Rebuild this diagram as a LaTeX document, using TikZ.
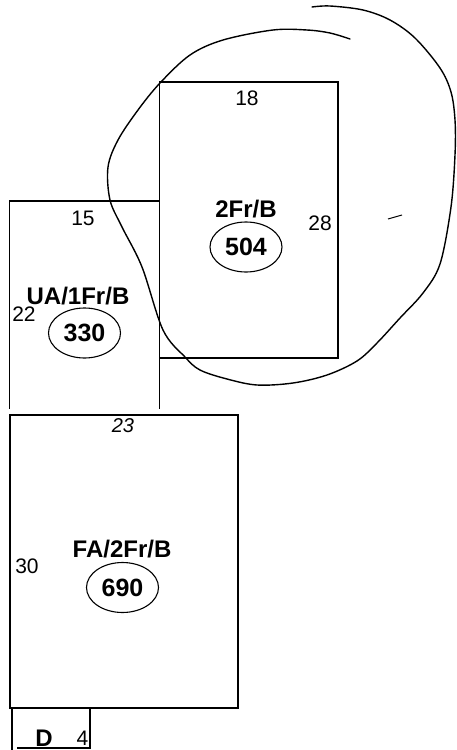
\documentclass[tikz,border=0pt]{standalone}
\usepackage{fontspec}
\setmainfont{Liberation Sans}
\usetikzlibrary{shapes.geometric}
\begin{document}
\begin{tikzpicture}[x=1pt,y=-1pt,
  wall/.style={line width=1.9pt, line cap=rect},
  blob/.style={line width=1.4pt, line cap=round, line join=round},
  lbl/.style={font=\fontsize{21}{21}\selectfont, inner sep=0pt},
  ilbl/.style={font=\fontsize{20}{20}\selectfont\itshape, inner sep=0pt},
  room/.style={font=\fontsize{24}{24}\selectfont\bfseries, inner sep=0pt},
  area/.style={ellipse, draw, line width=1.1pt, minimum width=72pt, minimum height=50pt, inner sep=0pt, font=\fontsize{25}{25}\selectfont\bfseries}
]
\useasboundingbox (0,0) rectangle (456,750);
% walls
\draw[wall] (159.5,82) rectangle (338,358);
\draw[wall] (9.5,408) -- (9.5,201) -- (159.5,201);
\draw[wall] (159.5,358) -- (159.5,408);
\draw[wall] (10,415) rectangle (238,708);
\draw[wall] (12,708) -- (12,750);
\draw[wall] (90,708) -- (90,748) -- (18,748);
% hand-drawn loop
\draw[blob] plot[smooth, tension=0.55] coordinates {
  (312,7) (330,6) (363,10) (390,20) (415,38) (440,68) (451,92) (455,120)
  (455,155) (451,207) (440,264) (423,293) (400,318) (377,343) (357,361)
  (327,375) (293,383) (257,385) (227,379) (200,370) (185,357) (163,330)
  (142,267) (122,227) (110,200) (108,167) (118,140) (138,110) (160,83)
  (190,55) (223,40) (273,30) (307,30) (330,33) (350,39)};
\draw[line width=1pt] (388,219) -- (402,215);
% labels
\node[lbl] (w15) at (83,218) {15};
\node[room] (ua) at (78,296) {UA/1Fr/B};
\node[lbl] (w22) at (24,314) {22};
\node[area] (a330) at (84.5,333) {330};
\node[lbl] (w18) at (247,98) {18};
\node[room] (fr2) at (246,209) {2Fr/B};
\node[area] (a504) at (246,247) {504};
\node[lbl] (w28) at (320,223) {28};
\node[ilbl] (w23) at (123,426) {23};
\node[room] (fa) at (122,549) {FA/2Fr/B};
\node[lbl] (w30) at (27,566) {30};
\node[area] (a690) at (122.5,587.5) {690};
\node[room] (d) at (44,738) {D};
\node[lbl] (w4) at (82.5,738) {4};
\draw[line width=1pt] (d.south) ++(-1.5,9) -- ++(3,0);
\end{tikzpicture}
\end{document}
